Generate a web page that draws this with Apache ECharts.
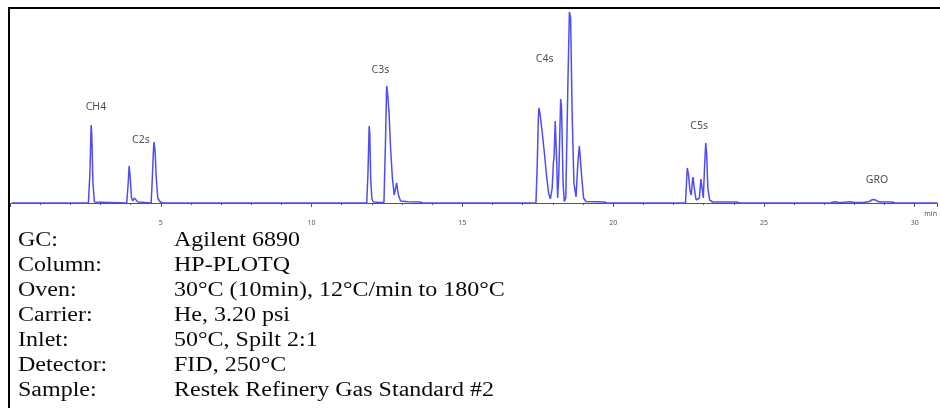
<!DOCTYPE html>
<html><head><meta charset="utf-8">
<script src="https://cdn.jsdelivr.net/npm/echarts@6/dist/echarts.min.js"></script>
<style>html,body{margin:0;padding:0;background:#fff}#c{width:940px;height:408px}</style>
</head><body><div id="c"></div>
<script>
// retention time (min) and detector signal (arbitrary units, baseline = 0)
const times = [
  0.07,
  2.60, 2.65, 2.69, 2.71, 2.75, 2.80, 2.85,
  3.87, 3.92, 3.95, 3.98, 4.03, 4.07, 4.12, 4.17, 4.24, 4.30,
  4.68, 4.72, 4.76, 4.78, 4.81, 4.85, 4.90, 4.97, 5.05,
  11.83, 11.87, 11.91, 11.93, 11.96, 12.00, 12.05, 12.30,
  12.40, 12.45, 12.49, 12.52, 12.57, 12.62, 12.68, 12.74, 12.78, 12.82, 12.88, 12.95, 13.20, 13.60, 13.70,
  17.44, 17.48, 17.52, 17.54, 17.58, 17.65, 17.72, 17.80, 17.86, 17.92, 17.98, 18.02, 18.04, 18.08, 18.10, 18.13, 18.16,
  18.20, 18.26, 18.29, 18.34, 18.38, 18.43, 18.50, 18.55, 18.59, 18.64, 18.70, 18.77, 18.83, 18.88, 18.91, 18.96, 19.02, 19.10, 19.70, 19.80,
  22.40, 22.44, 22.46, 22.50, 22.55, 22.59, 22.63, 22.65, 22.69, 22.75, 22.80, 22.86, 22.91, 22.93, 22.96, 22.99,
  23.03, 23.07, 23.10, 23.14, 23.20, 23.30, 24.10, 24.20,
  27.20, 27.30, 27.37, 27.45, 27.60, 27.75, 27.86, 28.00, 28.30, 28.50, 28.60, 28.64, 28.70, 28.80, 29.00, 29.25, 29.35,
  30.75
];
const signal = [
  0,
  0, 30, 78, 70, 20, 1, 0,
  0, 20, 37, 28, 5, 2, 5, 7, 1, 0,
  0, 25, 55, 61, 52, 25, 5, 1.5, 0,
  0, 30, 77, 70, 25, 4, 1, 0.6,
  0.6, 60, 117, 110, 90, 55, 25, 8, 14, 20, 8, 2, 1.2, 1, 0,
  0, 35, 85, 95, 88, 70, 50, 25, 10, 4, 15, 41, 45, 82, 80, 40, 5,
  30, 104, 95, 20, 1.5, 5, 120, 191, 185, 90, 20, 6, 40, 57, 55, 25, 5, 1.5, 1, 0,
  0, 25, 35, 28, 12, 8, 22, 26, 15, 3, 1.3, 5, 24, 26, 12, 5,
  35, 60, 50, 15, 3, 1, 1, 0,
  0, 1, 1.2, 0.5, 0.5, 1, 1.2, 0.6, 0.5, 1.5, 3.5, 4, 3, 1.2, 1, 1, 0,
  0
];
// peak group labels
const peakNames = ['CH4', 'C2s', 'C3s', 'C4s', 'C5s', 'GRO'];
const peakLabelTimes = [2.85, 4.34, 12.28, 17.73, 22.85, 28.75];
const peakLabelSignal = [96, 63, 133, 144, 77, 23];
// x axis tick labels
const tickValues = [5, 10, 15, 20, 25, 30];
// method table
const condLabels = ['GC:', 'Column:', 'Oven:', 'Carrier:', 'Inlet:', 'Detector:', 'Sample:'];
const condValues = ['Agilent 6890', 'HP-PLOTQ', '30°C (10min), 12°C/min to 180°C', 'He, 3.20 psi',
  '50°C, Spilt 2:1', 'FID, 250°C', 'Restek Refinery Gas Standard #2'];

const chart = echarts.init(document.getElementById('c'), null, {renderer: 'canvas'});
const lineData = times.map((t, i) => [t, signal[i]]);
const labelData = peakNames.map((n, i) => [peakLabelTimes[i], peakLabelSignal[i], n]);

const graphics = [
  {type: 'rect', shape: {x: 8, y: 7, width: 932, height: 2}, style: {fill: '#000'}, z: 100},
  {type: 'rect', shape: {x: 8, y: 7, width: 2, height: 401}, style: {fill: '#000'}, z: 100}
];
condLabels.forEach((lab, i) => {
  const y = 241 + i * 25;
  graphics.push({type: 'text', x: 18, y: y, scaleX: 1.2,
    style: {text: lab, font: '20px "Liberation Serif"', fill: '#0a0a0a', verticalAlign: 'middle', align: 'left'}});
  graphics.push({type: 'text', x: 174, y: y, scaleX: 1.2,
    style: {text: condValues[i], font: '20px "Liberation Serif"', fill: '#0a0a0a', verticalAlign: 'middle', align: 'left'}});
});

chart.setOption({
  animation: false,
  backgroundColor: '#fff',
  grid: {left: 10, right: 0, top: 8, height: 205},
  xAxis: {
    type: 'value', min: 0, max: 30.75, interval: 5,
    name: 'min', nameLocation: 'end', nameGap: -13,
    nameTextStyle: {fontSize: 7, color: '#555', fontFamily: 'Noto Sans', verticalAlign: 'top', padding: [7, 0, 0, 0]},
    axisLine: {lineStyle: {color: '#555', width: 1}},
    axisTick: {length: 4, lineStyle: {color: '#555'}},
    minorTick: {show: true, splitNumber: 5, length: 2, lineStyle: {color: '#555'}},
    splitLine: {show: false},
    axisLabel: {
      fontSize: 7, color: '#555', margin: 6, fontFamily: 'Noto Sans',
      showMinLabel: false, showMaxLabel: false,
      formatter: v => tickValues.indexOf(v) >= 0 ? String(v) : ''
    }
  },
  yAxis: {type: 'value', min: -10, max: 195, show: false, splitLine: {show: false}},
  series: [
    {type: 'line', data: lineData, showSymbol: false, symbol: 'none',
     lineStyle: {color: '#4d4df7', width: 1.5}, z: 3},
    {type: 'scatter', data: labelData, symbolSize: 1, itemStyle: {color: 'rgba(0,0,0,0)'},
     label: {show: true, position: 'inside', formatter: p => p.data[2],
       fontSize: 10.5, color: '#222', fontFamily: 'Noto Sans'}, z: 4}
  ],
  graphic: graphics
});
</script></body></html>
